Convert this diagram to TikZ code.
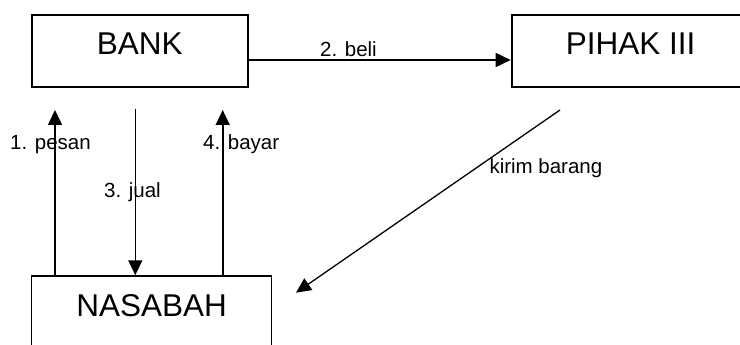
\documentclass[tikz,border=0pt]{standalone}
\usepackage{fontspec}
\setmainfont{Liberation Sans}
\usetikzlibrary{arrows.meta}

\begin{document}
\begin{tikzpicture}[x=1pt, y=-1pt, >={Triangle[length=15pt, width=14pt]},
  kotak/.style={draw, line width=2pt, minimum height=72pt, inner sep=0pt,
    text height=22.6pt, text depth=14.6pt, font=\fontsize{31.5}{36}\selectfont},
  panah/.style={->, line width=1.6pt},
  teks/.style={anchor=base west, inner sep=0pt, font=\fontsize{20.5}{24}\selectfont}]
  \useasboundingbox (0, 0) rectangle (740, 345);
  \node[kotak, minimum width=216.3pt] (bank) at (139.85, 51) {BANK};
  \node[kotak, minimum width=238pt] (pihak) at (630.7, 51) {PIHAK III};
  \node[kotak, line width=1.5pt, minimum width=240pt] (nasabah) at (151.7, 312) {NASABAH};
  \coordinate (pesan) at (55, 110);
  \coordinate (jual) at (135.3, 109);
  \coordinate (bayar) at (222.7, 110);
  \coordinate (kirimA) at (560, 110);
  \coordinate (kirimB) at (296, 292.7);
  \node[teks] (lpesan) at (10, 149.3) {1. pesan};
  \node[teks] (lbeli) at (320, 56.7) {2. beli};
  \node[teks] (ljual) at (104, 197.7) {3. jual};
  \node[teks] (lbayar) at (203, 149.3) {4. bayar};
  \node[teks] (lkirim) at (489.3, 173.5) {kirim barang};
  \draw[panah] (nasabah.north -| pesan) -- (pesan);
  \draw[panah] (jual) -- (jual |- nasabah.north);
  \draw[panah] (nasabah.north -| bayar) -- (bayar);
  \draw[panah] ([yshift=-9pt]bank.east) -- ([yshift=-9pt]pihak.west);
  \draw[panah, line width=1.3pt] (kirimA) -- (kirimB);
\end{tikzpicture}
\end{document}
